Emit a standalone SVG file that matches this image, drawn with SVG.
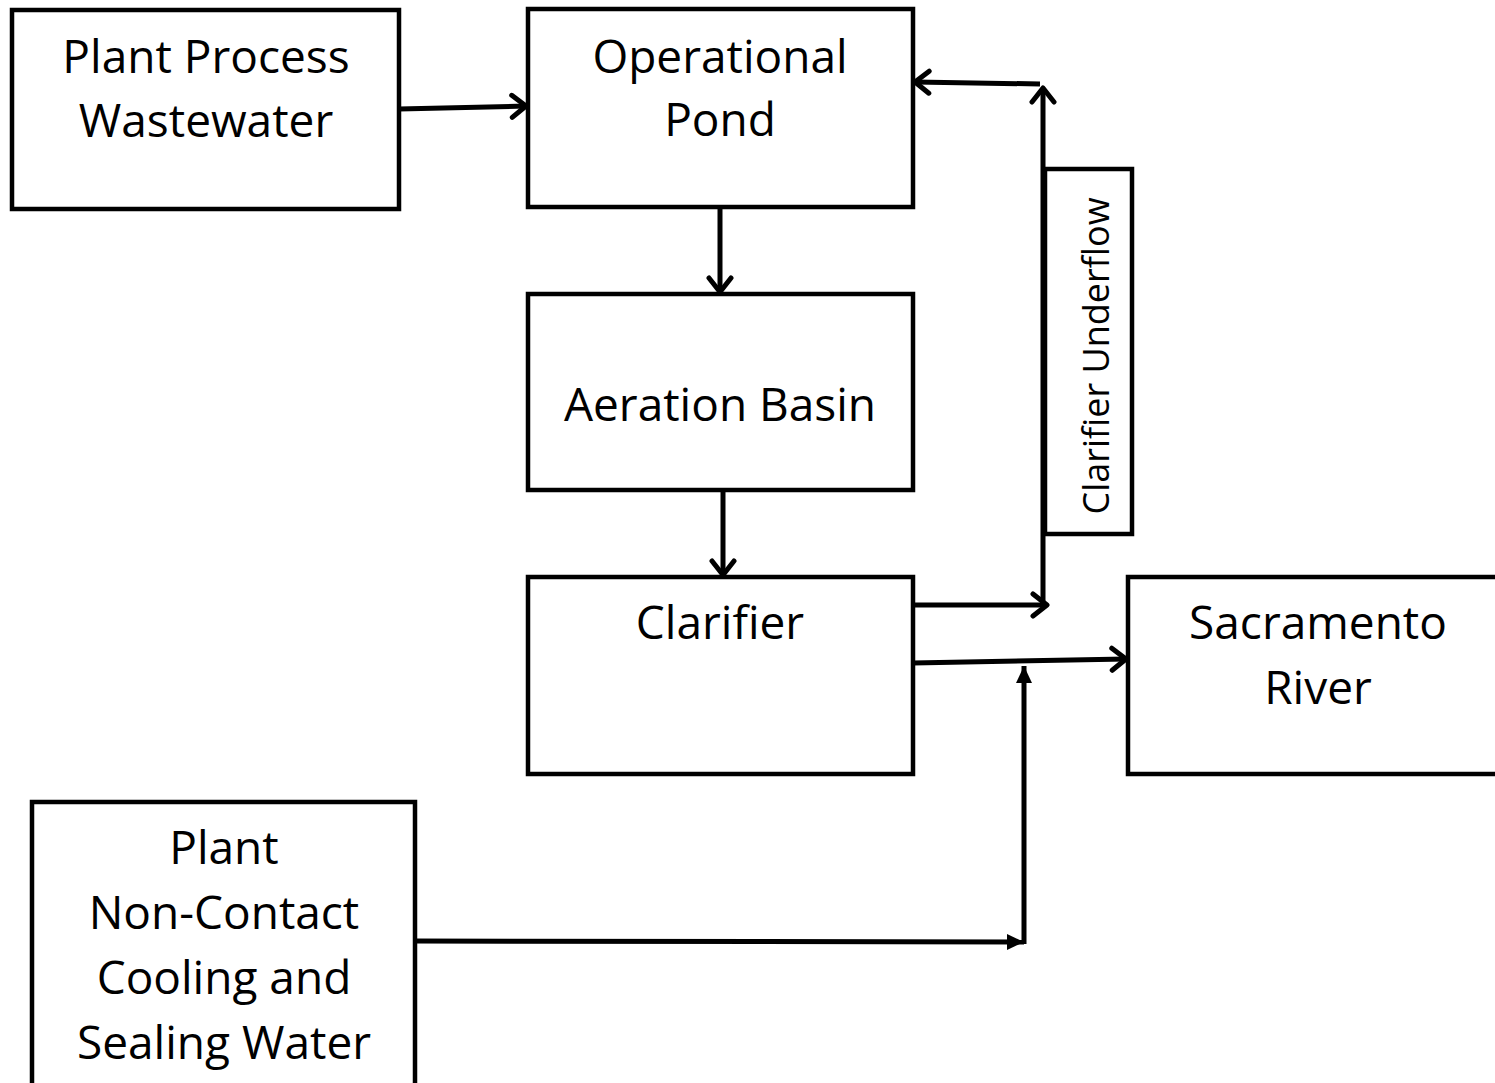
<svg xmlns="http://www.w3.org/2000/svg" width="1495" height="1083" viewBox="0 0 1495 1083">
<style>
.box{fill:#fff;stroke:#000;stroke-width:4.5}
.lbl{font-family:"Open Sans","Liberation Sans",sans-serif;font-size:46px;fill:#000;text-anchor:middle}
.side{font-family:"Open Sans","Liberation Sans",sans-serif;font-size:36px;fill:#000;text-anchor:middle}
.c{fill:none;stroke:#000;stroke-width:5}
</style>
<defs>
<marker id="open" viewBox="0 0 24 28" refX="20" refY="14" markerWidth="24" markerHeight="28" markerUnits="userSpaceOnUse" orient="auto">
<path d="M6,3 L20,14 L6,25" fill="none" stroke="#000" stroke-width="5" stroke-linecap="round" stroke-linejoin="round"/>
</marker>
<marker id="solid" viewBox="0 0 18 18" refX="17" refY="9" markerWidth="18" markerHeight="18" markerUnits="userSpaceOnUse" orient="auto">
<path d="M0,1 L17,9 L0,17 Z" fill="#000"/>
</marker>
</defs>
<rect width="1495" height="1083" fill="#fff"/>
<g id="ppw"><rect class="box" x="12" y="10" width="387" height="199"/><text class="lbl" x="206" y="73">Plant Process</text><text class="lbl" x="206" y="137">Wastewater</text></g>
<g id="pond"><rect class="box" x="528" y="9" width="385" height="198"/><text class="lbl" x="720" y="73">Operational</text><text class="lbl" x="720" y="136">Pond</text></g>
<g id="aeration"><rect class="box" x="528" y="294" width="385" height="196"/><text class="lbl" x="720" y="421">Aeration Basin</text></g>
<g id="clarifier"><rect class="box" x="528" y="577" width="385" height="197"/><text class="lbl" x="720" y="639">Clarifier</text></g>
<g id="river"><rect class="box" x="1128" y="577" width="372" height="197"/><text class="lbl" x="1318" y="639">Sacramento</text><text class="lbl" x="1318" y="704">River</text></g>
<g id="cooling"><rect class="box" x="32" y="802" width="383" height="290"/><text class="lbl" x="224" y="864">Plant</text><text class="lbl" x="224" y="929">Non-Contact</text><text class="lbl" x="224" y="994">Cooling and</text><text class="lbl" x="224" y="1059">Sealing Water</text></g>
<g id="underflow"><rect class="box" x="1045" y="169" width="87" height="365"/><text class="side" transform="translate(1109,356) rotate(-90)">Clarifier Underflow</text></g>
<g id="connectors">
<path class="c" d="M399,109 L526,106" marker-end="url(#open)"/>
<path class="c" d="M720,207 L720,292" marker-end="url(#open)"/>
<path class="c" d="M723,490 L723,575" marker-end="url(#open)"/>
<path class="c" d="M913,605 L1047,605" marker-end="url(#open)"/>
<path class="c" d="M1043,607 L1043,88" marker-end="url(#open)"/>
<path class="c" d="M1040,84 L915,82" marker-end="url(#open)"/>
<path class="c" d="M913,663 L1126,659" marker-end="url(#open)"/>
<path class="c" d="M415,941 L1024,942" marker-end="url(#solid)"/>
<path class="c" d="M1024,944 L1024,666" marker-end="url(#solid)"/>
</g>
</svg>
